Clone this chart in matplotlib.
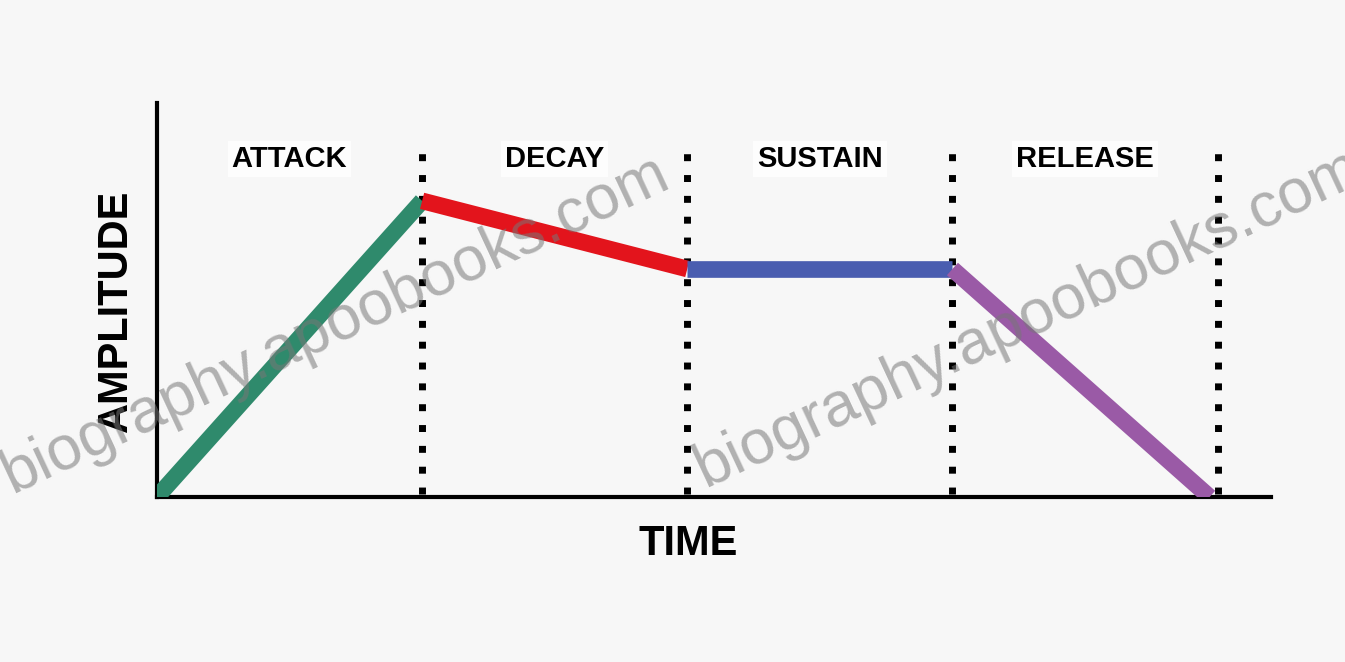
import matplotlib.pyplot as plt

# ADSR envelope points (time in phase units, amplitude relative to peak)
phases = ["ATTACK", "DECAY", "SUSTAIN", "RELEASE"]
times = [0, 1, 2, 3, 3.97]
amplitude = [0, 1.0, 0.77, 0.77, 0]
seg_colors = ["#2f8a6c", "#e3141c", "#4a5db0", "#9a5aa6"]
boundaries = [1, 2, 3, 4]

fig = plt.figure(figsize=(13.45, 6.62), dpi=100)
fig.patch.set_facecolor("#f7f7f7")
ax = fig.add_axes([0.1167, 0.2492, 0.828, 0.595])
ax.set_facecolor("#f7f7f7")

for i in range(4):
    ax.plot(times[i:i + 2], amplitude[i:i + 2], color=seg_colors[i], lw=12,
            solid_capstyle="butt", zorder=3)

for b in boundaries:
    ax.plot([b, b], [0.01, 1.17], color="black", lw=5, linestyle=(0, (1, 2)), zorder=2)

for i, name in enumerate(phases):
    ax.text(i + 0.5, 1.14, name, ha="center", va="center", fontsize=21,
            fontweight="bold", family="Liberation Sans",
            bbox=dict(facecolor="#fdfdfd", edgecolor="none", pad=3), zorder=4)

ax.set_xlim(0, 4.2)
ax.set_ylim(0, 1.33)
ax.set_xticks([])
ax.set_yticks([])
for s in ["top", "right"]:
    ax.spines[s].set_visible(False)
for s in ["left", "bottom"]:
    ax.spines[s].set_linewidth(3)
    ax.spines[s].set_color("black")

fig.text(0.512, 0.178, "TIME", ha="center", va="center", fontsize=30,
         fontweight="bold", family="Liberation Sans")
fig.text(0.0865, 0.53, "AMPLITUDE", ha="center", va="center", rotation=90,
         fontsize=30, fontweight="bold", family="Liberation Sans")

# watermark
for x0, y0 in [(0.25, 0.51), (0.765, 0.52)]:
    fig.text(x0, y0, "biography.apoobooks.com", ha="center", va="center",
             rotation=25, fontsize=45, color="#777777", alpha=0.55,
             family="Liberation Sans", zorder=10)

fig.savefig("out.png", dpi=100, facecolor=fig.get_facecolor())
